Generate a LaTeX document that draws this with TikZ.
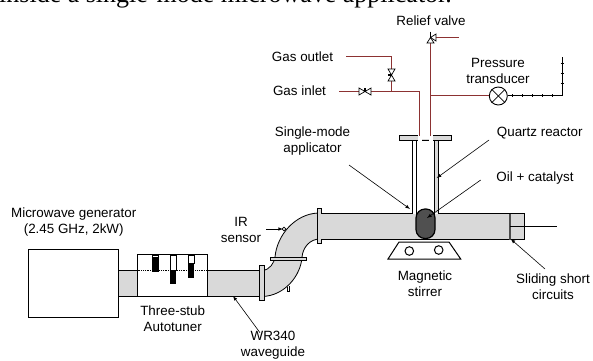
\documentclass[tikz,border=0pt]{standalone}
\usepackage{fontspec}
\setmainfont{Liberation Sans}
\newfontfamily\titlefont{Liberation Serif}
\usepackage{xcolor}
\definecolor{pipered}{HTML}{8C3232}
\definecolor{guidegray}{HTML}{D9D9D9}
\definecolor{oilgray}{HTML}{595959}
\tikzset{
    lbl/.style={inner sep=0pt, align=center, font=\fontsize{13.4}{16}\selectfont},
    pipe/.style={pipered, line width=1.1pt},
    guide/.style={fill=guidegray, draw=black, line width=0.8pt},
    pointer/.style={-latex, line width=0.6pt},
    valvetri/.style={draw=black, fill=white, line width=0.7pt},
    valve/.pic={
        \draw[valvetri] (-6,-3.5) -- (0,0) -- (-6,3.5) -- cycle;
        \draw[valvetri] (6,-3.5) -- (0,0) -- (6,3.5) -- cycle;
        \draw[line width=1.2pt] (0,0) -- (0,-3.5);
    }
}
\begin{document}
\begin{tikzpicture}[x=1pt, y=-1pt]
    \clip (0,0) rectangle (593,360);
    \useasboundingbox (0,0) rectangle (593,360);

    % Cut-off line of the page above the figure
    \node[inner sep=0pt, anchor=base west, font=\titlefont\fontsize{26}{26}\selectfont] (caption) at (-1,2) {inside a single-mode microwave applicator.};

    % Draw the generator
    \draw[line width=0.8pt] (28.5,249) rectangle (118.5,317);

    % Draw the lower waveguide
    \draw[guide] (118.5,270.5) rectangle (137.5,296.5);
    \draw[guide] (207.5,270.5) rectangle (260,296.5);

    % Draw the autotuner and its stubs
    \draw[line width=0.8pt, fill=white] (137.5,254.5) rectangle (207.5,296.5);
    \draw[fill=white, line width=0.6pt] (152,255) rectangle (158,271);
    \fill (152,256.5) rectangle (158,271.5);
    \draw[fill=white, line width=0.6pt] (170,255) rectangle (176,270);
    \fill (170,270) rectangle (176,284);
    \draw[fill=white, line width=0.6pt] (188,255) rectangle (194,263);
    \fill (188,263) rectangle (194,278);
    \draw[densely dotted, line width=0.8pt] (137.5,270.5) -- (207.5,270.5);

    % Draw the elbow
    \draw[guide] (262,270.5) .. controls (270,270) and (274,263) .. (275,257)
        .. controls (277,235) and (295,214) .. (318,213) -- (320,239)
        .. controls (310,239) and (303,247) .. (302,257)
        .. controls (301,275) and (285,296) .. (262,296.5) -- cycle;
    \draw[guide] (259.5,265) rectangle (264,300);
    \draw[guide] (270,257) rectangle (306,260);
    \draw[guide] (317,208) rectangle (321,243);
    \draw[line width=0.7pt] (287,287) -- (287,291) -- (289,291) -- (289,286);
    \draw[line width=0.7pt] (284,229) circle (1.8);

    % Draw the upper waveguide and the short circuit
    \fill[guidegray] (321,213.5) rectangle (510,239.5);
    \draw[line width=0.8pt] (321,213.5) -- (412.5,213.5) -- (412.5,140);
    \draw[line width=0.8pt] (416.5,140) -- (416.5,215);
    \draw[line width=0.8pt] (321,239.5) -- (510,239.5);
    \draw[line width=0.8pt] (434.5,140) -- (434.5,215);
    \fill[guidegray] (434.9,140) rectangle (438,213);
    \draw[line width=0.8pt] (438.5,140) -- (438.5,213.5) -- (510,213.5);
    \fill[white] (413,140) rectangle (416,213);
    \fill[white] (417,140) rectangle (434,212);
    \draw[draw=black, fill=guidegray, line width=0.5pt] (510,213.5) rectangle (524.7,239.5);
    \draw[line width=1.2pt, draw=black!70] (510,213.5) -- (510,239.5);
    \draw[line width=0.8pt] (510,226.5) -- (556.7,226.5);

    % Draw the oil
    \draw[fill=oilgray!90!black, line width=1.2pt, rounded corners=9pt] (416,238.5) -- (416,209) -- (435,209) -- (435,238.5) -- cycle;

    % Draw the stirrer
    \draw[line width=1pt] (399,242) -- (449,242) -- (460.7,259) -- (388,259) -- cycle;
    \draw[line width=1pt] (409.3,251) circle (4.3);
    \draw[line width=1pt] (438.7,250) circle (4.3);

    % Draw the lid of the reactor
    \draw[guide] (399.3,135) rectangle (451,140.3);
    \fill[white] (417.5,134.5) rectangle (421.5,140.8);
    \fill[white] (428.5,134.5) rectangle (432.5,140.8);
    \fill[white] (421.5,134.5) rectangle (428.5,139);

    % Named points of the gas lines
    \coordinate (outletend) at (346,56.5);
    \coordinate (inletend) at (339,91.5);
    \coordinate (outlettee) at (391.5,91.5);
    \coordinate (outletcorner) at (391.5,56.5);
    \coordinate (inletcorner) at (419.5,91.5);
    \coordinate (inletlid) at (419.5,136);
    \coordinate (rightlid) at (430.5,136);
    \coordinate (relieftee) at (430.5,38);
    \coordinate (reliefend) at (458.7,37.5);
    \coordinate (sensortee) at (430.5,95.5);

    % Draw the gas lines
    \draw[pipe] (outletend) -- (outletcorner) -- (outlettee);
    \draw[pipe] (inletend) -- (inletcorner) -- (inletlid);
    \draw[pipe] (rightlid) -- (relieftee);
    \draw[pipe] (relieftee |- reliefend) -- (reliefend);

    % Draw the valves
    \pic at (365,91.5) {valve};
    \pic[rotate=90] at (391.5,75) {valve};
    \draw[valvetri] (427,43) -- (430.5,37.5) -- (434,43) -- cycle;
    \draw[valvetri] (436,34) -- (430.5,37.5) -- (436,41) -- cycle;
    \draw[line width=1.1pt] (430.5,31.5) -- (430.5,37.5);

    % Draw the transducer
    \node[draw, circle, line width=0.9pt, minimum size=18pt, inner sep=0pt, fill=white] (transducer) at (498.3,96) {};
    \draw[line width=0.7pt] (transducer.north west) -- (transducer.south east);
    \draw[line width=0.7pt] (transducer.south west) -- (transducer.north east);
    \draw[pipe] (sensortee) -- (transducer.west |- sensortee);

    % Draw the signal line
    \coordinate (signalcorner) at (562,95.5);
    \coordinate (signalend) at (562,57);
    \draw[line width=0.7pt] (transducer.east |- signalcorner) -- (signalcorner) -- (signalend);
    \foreach \x in {512,522,...,552}
        \draw[line width=0.5pt] (\x,94) -- (\x,97);
    \foreach \y in {63,73,83}
        \draw[line width=0.5pt] (560.5,\y) -- (563.5,\y);

    % Labels
    \node[lbl] (relieflabel) at (431,21) {Relief valve};
    \node[lbl] (outletlabel) at (302.5,56.5) {Gas outlet};
    \node[lbl] (inletlabel) at (299.5,90.5) {Gas inlet};
    \node[lbl] (transducerlabel) at (498,70.5) {Pressure\\transducer};
    \node[lbl] (applicatorlabel) at (312.5,141) {Single-mode\\applicator};
    \node[lbl] (quartzlabel) at (539.7,133) {Quartz reactor};
    \node[lbl] (oillabel) at (535,178) {Oil + catalyst};
    \node[lbl] (generatorlabel) at (73.7,222) {Microwave generator\\(2.45 GHz, 2kW)};
    \node[lbl] (sensorlabel) at (241,230) {IR\\sensor};
    \node[lbl] (tunerlabel) at (172.7,319) {Three-stub\\Autotuner};
    \node[lbl] (guidelabel) at (273,345.5) {WR340\\waveguide};
    \node[lbl] (stirrerlabel) at (425,283.5) {Magnetic\\stirrer};
    \node[lbl] (shortlabel) at (553,287) {Sliding short\\circuits};

    % Draw the pointers
    \coordinate (sensorspot) at (283,229);
    \coordinate (applicatorspot) at (410,209);
    \coordinate (quartzspot) at (436.7,178);
    \coordinate (oilspot) at (427,218);
    \coordinate (shortspot) at (510.7,239);
    \coordinate (guidespot) at (233,296);
    \draw[pointer] (266,229) -- (sensorspot);
    \draw[pointer] (349,165) -- (applicatorspot);
    \draw[pointer] (489,140) -- (quartzspot);
    \draw[pointer] (480.7,180) -- (oilspot);
    \draw[pointer] (545,269) -- (shortspot);
    \draw[pointer] (260,332.7) -- (guidespot);
\end{tikzpicture}
\end{document}
